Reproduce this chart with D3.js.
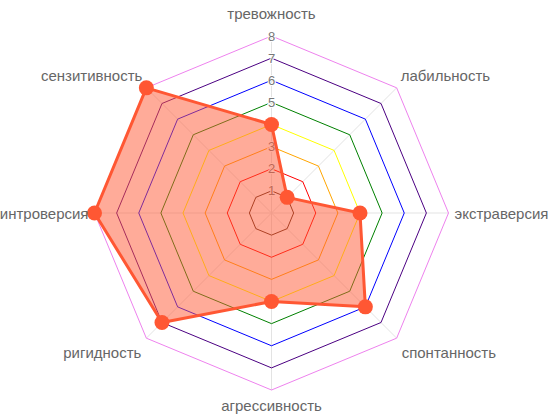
<!DOCTYPE html>
<html><head><meta charset="utf-8">
<script src="https://cdn.jsdelivr.net/npm/d3@7"></script>
<style>html,body{margin:0;padding:0;background:#fff;}svg{display:block;}</style>
</head><body>
<svg id="chart" width="550" height="420"></svg>
<script>
const categories = ["тревожность","лабильность","экстраверсия","спонтанность","агрессивность","ригидность","интроверсия","сензитивность"];
const values = [4, 1, 4, 6, 4, 7, 8, 8];
const ticks = [1,2,3,4,5,6,7,8];
const ringColors = ["#5a2a14","#ff0000","#ffa500","#ffff00","#008000","#0000ff","#4b0082","#ee82ee"];

const svg = d3.select("#chart");
const cx = 271.5, cy = 213, R = 177;
const r = d3.scaleLinear().domain([0, 8]).range([0, R]);
const n = categories.length;
const ang = d3.scaleLinear().domain([0, n]).range([0, 2*Math.PI]);
const pt = (i, v) => [cx + r(v)*Math.sin(ang(i)), cy - r(v)*Math.cos(ang(i))];

const g = svg.append("g");
// spokes
g.selectAll("line.spoke").data(categories).join("line")
  .attr("x1", cx).attr("y1", cy)
  .attr("x2", (d,i)=>pt(i,8)[0]).attr("y2", (d,i)=>pt(i,8)[1])
  .attr("stroke", "#e3e3e3").attr("stroke-width", 1);
// rings
const ringLine = d3.line().curve(d3.curveLinearClosed);
g.selectAll("path.ring").data(ticks).join("path")
  .attr("d", t => ringLine(categories.map((c,i)=>pt(i,t))))
  .attr("fill", "none")
  .attr("stroke", (t,k)=>ringColors[k]).attr("stroke-width", 1);
// tick labels
g.selectAll("text.tick").data(ticks).join("text")
  .attr("x", cx).attr("y", t => cy - r(t))
  .attr("text-anchor", "middle").attr("dominant-baseline", "central")
  .attr("font-family", "Liberation Sans, Arial, sans-serif").attr("font-size", 13)
  .attr("fill", "#777")
  .attr("stroke", "#fff").attr("stroke-width", 2).attr("paint-order", "stroke")
  .text(t => t);
// data polygon
g.append("path")
  .attr("d", ringLine(values.map((v,i)=>pt(i,v))))
  .attr("fill", "#ff5733").attr("fill-opacity", 0.5)
  .attr("stroke", "#ff5733").attr("stroke-width", 3).attr("stroke-linejoin", "round");
g.selectAll("circle.pt").data(values).join("circle")
  .attr("cx", (v,i)=>pt(i,v)[0]).attr("cy", (v,i)=>pt(i,v)[1])
  .attr("r", 7.5).attr("fill", "#ff5733");
// axis labels
const labelPos = (i) => {
  const [x, y] = pt(i, 8);
  const a = i % 8;
  switch (a) {
    case 0: return {x, y: y - 23, anchor: "middle"};
    case 1: return {x: x + 4, y: y - 12, anchor: "start"};
    case 2: return {x: x + 6, y, anchor: "start"};
    case 3: return {x: x + 5, y: y + 14, anchor: "start"};
    case 4: return {x, y: y + 15, anchor: "middle"};
    case 5: return {x: x - 5, y: y + 14, anchor: "end"};
    case 6: return {x: x - 6, y, anchor: "end"};
    default: return {x: x - 4, y: y - 12, anchor: "end"};
  }
};
g.selectAll("text.axis").data(categories).join("text")
  .attr("x", (d,i)=>labelPos(i).x).attr("y", (d,i)=>labelPos(i).y)
  .attr("text-anchor", (d,i)=>labelPos(i).anchor).attr("dominant-baseline", "central")
  .attr("font-family", "Liberation Sans, Arial, sans-serif").attr("font-size", 15)
  .attr("fill", "#666")
  .text(d => d);
</script>
</body></html>
